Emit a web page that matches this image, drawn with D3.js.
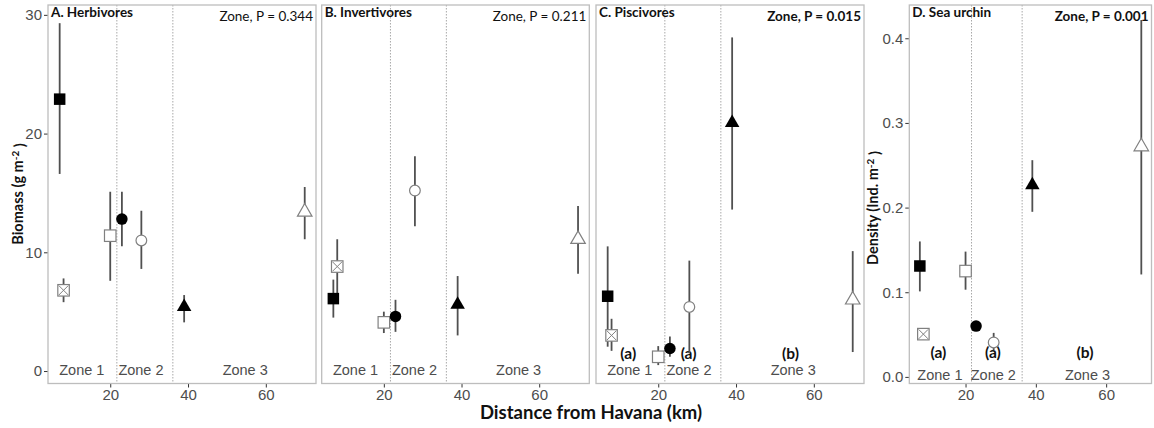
<!DOCTYPE html>
<html>
<head>
<meta charset="utf-8">
<script src="https://cdn.jsdelivr.net/npm/d3@7"></script>
<style>
  html, body { margin: 0; padding: 0; background: #fff; }
  svg { display: block; }
</style>
</head>
<body>
<svg id="chart" width="1154" height="428"></svg>
<script>
// ---- Data -------------------------------------------------------------
// Sampling sites: distance from Havana (km) and the marker used for each site
const siteDistance = [7, 8, 20, 23, 28, 39, 70];
const siteShape = ["squareFilled", "squareCross", "squareOpen", "circleFilled", "circleOpen", "triangleFilled", "triangleOpen"];

// A. Herbivores biomass (g m-2): mean and error-bar limits
const herbMean = [22.9, 6.8, 11.4, 12.8, 11.0, 5.4, 13.4];
const herbLow  = [16.6, 5.8, 7.6, 10.5, 8.6, 4.1, 11.1];
const herbHigh = [29.3, 7.8, 15.1, 15.1, 13.5, 6.4, 15.5];

// B. Invertivores biomass (g m-2)
const invMean = [6.1, 8.8, 4.1, 4.6, 15.2, 5.6, 11.1];
const invLow  = [4.5, 6.5, 3.2, 3.3, 12.2, 3.0, 8.2];
const invHigh = [7.7, 11.1, 5.0, 6.0, 18.1, 8.0, 13.9];

// C. Piscivores biomass (g m-2)
const pisMean = [6.3, 3.0, 1.2, 1.9, 5.4, 20.9, 6.0];
const pisLow  = [2.05, 1.7, 0.5, 1.2, 1.5, 13.6, 1.6];
const pisHigh = [10.5, 4.4, 2.1, 2.9, 9.3, 28.1, 10.1];

// D. Sea urchin density (Ind. m-2)
const urchinMean = [0.131, 0.0505, 0.125, 0.060, 0.0407, 0.2266, 0.272];
const urchinLow  = [0.101, 0.044, 0.103, 0.056, 0.0316, 0.195, 0.121];
const urchinHigh = [0.160, 0.057, 0.148, 0.064, 0.052, 0.256, 0.4216];

// Zones along the coast
const zoneBreaks = [21.7, 36.1];
const zoneNames = ["Zone 1", "Zone 2", "Zone 3"];
const zoneLabelX = [12.7, 27.9, 54.7];

// Post-hoc groupings (panels C and D)
const groupLetters = ["(a)", "(a)", "(b)"];
const groupLetterX = [12.3, 27.8, 54.0];

// Axis ticks
const xTicks = [20, 40, 60];
const biomassTicks = [0, 10, 20, 30];
const densityTicks = [0.0, 0.1, 0.2, 0.3, 0.4];

// Panel annotations
const panelTitles = ["A. Herbivores", "B. Invertivores", "C. Piscivores", "D. Sea urchin"];
const panelPValues = ["Zone, P = 0.344", "Zone, P = 0.211", "Zone, P = 0.015", "Zone, P = 0.001"];
const panelPBold = [false, false, true, true];

// ---- Layout -----------------------------------------------------------
const svg = d3.select("#chart");
const sansFont = "'Liberation Sans', Arial, Helvetica, sans-serif";
const humanistFont = "Lato, 'Open Sans', sans-serif";

const panelBoxes = [
  { left: 48,    right: 316,    top: 5, bottom: 383.5 },
  { left: 321.7, right: 589.3,  top: 5, bottom: 383.5 },
  { left: 596,   right: 864,    top: 5, bottom: 383.5 },
  { left: 909.3, right: 1151.5, top: 5, bottom: 383.5 }
];

const xDomain = [4.0, 72.9];
const biomassDomain = [-1.05, 30.83];
const densityDomain = [-0.0078, 0.4393];

const panels = [
  { mean: herbMean,   low: herbLow,   high: herbHigh,   yDomain: biomassDomain, ticks: biomassTicks, showY: true,  fmt: d3.format("d"),   letters: false, letterY: null },
  { mean: invMean,    low: invLow,    high: invHigh,    yDomain: biomassDomain, ticks: biomassTicks, showY: false, fmt: d3.format("d"),   letters: false, letterY: null },
  { mean: pisMean,    low: pisLow,    high: pisHigh,    yDomain: biomassDomain, ticks: biomassTicks, showY: false, fmt: d3.format("d"),   letters: true,  letterY: 1.45 },
  { mean: urchinMean, low: urchinLow, high: urchinHigh, yDomain: densityDomain, ticks: densityTicks, showY: true,  fmt: d3.format(".1f"), letters: true,  letterY: 0.0285 }
];

// ---- Marker drawing ---------------------------------------------------
const openStroke = "#808080";
function drawMarker(g, shape, cx, cy) {
  const s = 11.5;    // square / circle size
  const t = 14.5;    // triangle base
  if (shape.startsWith("square")) {
    const filled = shape === "squareFilled";
    g.append("rect")
      .attr("x", cx - s / 2).attr("y", cy - s / 2)
      .attr("width", s).attr("height", s)
      .attr("fill", filled ? "#000" : "#fff")
      .attr("stroke", filled ? "#000" : openStroke)
      .attr("stroke-width", filled ? 0 : 1.2);
    if (shape === "squareCross") {
      const h = s / 2 - 1;
      g.append("path")
        .attr("d", `M${cx - h},${cy - h}L${cx + h},${cy + h}M${cx - h},${cy + h}L${cx + h},${cy - h}`)
        .attr("stroke", openStroke).attr("stroke-width", 1);
    }
  } else if (shape.startsWith("circle")) {
    const filled = shape === "circleFilled";
    g.append("circle")
      .attr("cx", cx).attr("cy", cy).attr("r", filled ? s / 2 : s / 2 - 0.4)
      .attr("fill", filled ? "#000" : "#fff")
      .attr("stroke", filled ? "none" : openStroke)
      .attr("stroke-width", 1.2);
  } else {
    const filled = shape === "triangleFilled";
    const h = t * 0.866;
    g.append("path")
      .attr("d", `M${cx},${cy - h * 2 / 3}L${cx + t / 2},${cy + h / 3}L${cx - t / 2},${cy + h / 3}Z`)
      .attr("fill", filled ? "#000" : "#fff")
      .attr("stroke", filled ? "none" : openStroke)
      .attr("stroke-width", 1.2);
  }
}

// ---- Panels -----------------------------------------------------------
panels.forEach((p, i) => {
  const box = panelBoxes[i];
  const x = d3.scaleLinear().domain(xDomain).range([box.left, box.right]);
  const y = d3.scaleLinear().domain(p.yDomain).range([box.bottom, box.top]);
  const g = svg.append("g");

  // x axis
  const xAxis = g.append("g")
    .attr("transform", `translate(0,${box.bottom})`)
    .call(d3.axisBottom(x).tickValues(xTicks).tickSize(4).tickPadding(2).tickFormat(d3.format("d")));
  xAxis.select(".domain").remove();
  xAxis.selectAll("line").attr("stroke", "#333").attr("stroke-width", 1);
  xAxis.selectAll("text").attr("font-family", sansFont).attr("font-size", 15).attr("fill", "#4d4d4d");

  // y axis
  if (p.showY) {
    const yAxis = g.append("g")
      .attr("transform", `translate(${box.left},0)`)
      .call(d3.axisLeft(y).tickValues(p.ticks).tickSize(4).tickPadding(2).tickFormat(p.fmt));
    yAxis.select(".domain").remove();
    yAxis.selectAll("line").attr("stroke", "#333").attr("stroke-width", 1);
    yAxis.selectAll("text").attr("font-family", sansFont).attr("font-size", 15).attr("fill", "#4d4d4d");
  }

  // zone boundaries
  g.selectAll("line.zone").data(zoneBreaks).join("line")
    .attr("class", "zone")
    .attr("x1", d => x(d)).attr("x2", d => x(d))
    .attr("y1", box.top).attr("y2", box.bottom)
    .attr("stroke", "#a8a8a8").attr("stroke-width", 1)
    .attr("stroke-dasharray", "1.5,1.5");

  // zone names
  g.selectAll("text.zoneName").data(zoneNames).join("text")
    .attr("class", "zoneName")
    .attr("x", (d, k) => x(zoneLabelX[k]))
    .attr("y", y(0) - 1.5)
    .attr("dy", "0.35em")
    .attr("text-anchor", "middle")
    .attr("font-family", sansFont).attr("font-size", 14.5).attr("fill", "#4d4d4d")
    .text(d => d);

  // grouping letters
  if (p.letters) {
    g.selectAll("text.letter").data(groupLetters).join("text")
      .attr("class", "letter")
      .attr("x", (d, k) => x(groupLetterX[k]))
      .attr("y", y(p.letterY))
      .attr("dy", "0.35em")
      .attr("text-anchor", "middle")
      .attr("font-family", humanistFont).attr("font-weight", 700).attr("font-size", 15.5).attr("fill", "#111")
      .text(d => d);
  }

  // error bars
  g.selectAll("line.err").data(siteDistance).join("line")
    .attr("class", "err")
    .attr("x1", d => x(d)).attr("x2", d => x(d))
    .attr("y1", (d, k) => y(p.low[k])).attr("y2", (d, k) => y(p.high[k]))
    .attr("stroke", "#505050").attr("stroke-width", 1.8);

  // site markers
  const marks = g.append("g");
  siteDistance.forEach((d, k) => drawMarker(marks, siteShape[k], x(d), y(p.mean[k])));

  // panel border
  g.append("rect")
    .attr("x", box.left).attr("y", box.top)
    .attr("width", box.right - box.left).attr("height", box.bottom - box.top)
    .attr("fill", "none").attr("stroke", "#bdbdbd").attr("stroke-width", 1.3);

  // panel title and test result
  g.append("text")
    .attr("x", box.left + 3).attr("y", box.top + 7).attr("dy", "0.35em")
    .attr("font-family", humanistFont).attr("font-weight", 700).attr("font-size", 13.5).attr("fill", "#111")
    .text(panelTitles[i]);
  g.append("text")
    .attr("x", box.right - 3).attr("y", box.top + 11).attr("dy", "0.35em")
    .attr("text-anchor", "end")
    .attr("font-family", humanistFont).attr("font-weight", panelPBold[i] ? 700 : 400)
    .attr("font-size", 13.5).attr("fill", "#111")
    .text(panelPValues[i]);
});

// ---- Axis titles ------------------------------------------------------
function unitTitle(xPos, yPos, main, unitPrefix) {
  const t = svg.append("text")
    .attr("transform", `translate(${xPos},${yPos}) rotate(-90)`)
    .attr("text-anchor", "middle")
    .attr("dy", "0.35em")
    .attr("font-family", humanistFont).attr("font-weight", 700).attr("font-size", 14.5).attr("fill", "#111");
  t.append("tspan").text(`${main} (${unitPrefix}m`);
  t.append("tspan").attr("dy", "-0.45em").attr("font-size", 10).text("-2");
  t.append("tspan").attr("dy", "0.45em").text(" )");
}
unitTitle(18, 194, "Biomass", "g ");
unitTitle(873, 208, "Density", "Ind. ");

svg.append("text")
  .attr("x", 591).attr("y", 413).attr("dy", "0.35em")
  .attr("text-anchor", "middle")
  .attr("font-family", humanistFont).attr("font-weight", 700).attr("font-size", 18.5).attr("fill", "#111")
  .text("Distance from Havana (km)");
</script>
</body>
</html>
